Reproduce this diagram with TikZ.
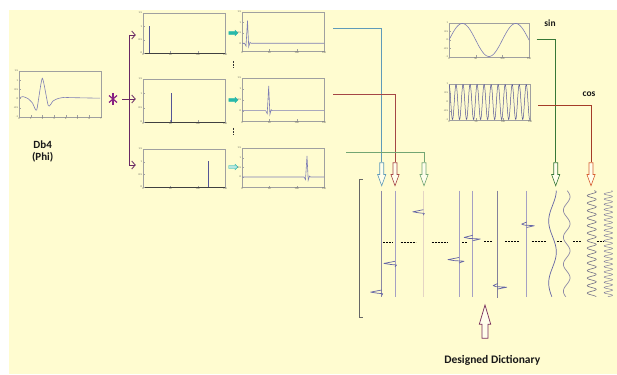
\documentclass[tikz,border=0pt]{standalone}
\usepackage{fontspec}
\setmainfont{Carlito}
\usetikzlibrary{arrows.meta,shapes.arrows,fit}
\definecolor{bgyellow}{RGB}{255,252,208}
\definecolor{frameg}{RGB}{160,160,160}
\definecolor{curvec}{RGB}{125,125,180}
\definecolor{spikec}{RGB}{85,85,150}
\definecolor{purp}{RGB}{105,40,100}
\definecolor{tealc}{RGB}{40,185,170}
\definecolor{blueC}{RGB}{95,155,185}
\definecolor{redC}{RGB}{165,70,70}
\definecolor{sageC}{RGB}{115,165,115}
\definecolor{dgreenC}{RGB}{55,120,55}
\definecolor{brownC}{RGB}{165,60,40}
\definecolor{orangeC}{RGB}{215,95,50}
\definecolor{collinec}{RGB}{165,160,195}
\definecolor{tanline}{RGB}{228,212,196}
\definecolor{blipc}{RGB}{100,100,165}
\definecolor{magC}{RGB}{120,45,90}
\tikzset{
  frame/.style={draw=frameg, line width=0.5pt, inner sep=0pt},
  darkaxis/.style={draw=black!75, line width=0.8pt},
  tickmark/.style={draw=frameg, line width=0.3pt},
  ticklab/.style={font=\fontsize{2.6}{3}\selectfont, text=black!70, inner sep=0.3pt},
  curve/.style={draw=curvec, line width=0.6pt},
  spike/.style={draw=spikec, line width=0.7pt},
  branch/.style={draw=purp, line width=0.8pt},
  branchtip/.style={branch, -{Straight Barb[length=3.5pt,width=8pt]}},
  starc/.style={draw=purp!80!magenta, line width=1.2pt},
  conn/.style={line width=0.9pt},
  downarrow/.style={single arrow, shape border rotate=270, draw, fill=bgyellow!40!white,
    minimum height=23pt, minimum width=7.6pt, inner sep=1.7pt,
    single arrow head extend=2.1pt, single arrow tip angle=40, line width=0.6pt},
  uparrow/.style={single arrow, shape border rotate=90, draw=magC, fill=bgyellow!40!white,
    minimum height=33.3pt, minimum width=10.7pt, inner sep=2.65pt,
    single arrow head extend=2.7pt, single arrow tip angle=33, line width=0.7pt},
  tealarrow/.style={single arrow, draw=tealc, fill=tealc, minimum height=9pt,
    minimum width=5.5pt, inner sep=1.3pt, single arrow head extend=1.2pt,
    single arrow tip angle=90, line width=0.4pt},
  dotmark/.style={draw=black!80, line width=0.7pt, dash pattern=on 0.7pt off 0.8pt},
  colline/.style={draw=collinec, line width=0.7pt},
  blip/.style={draw=blipc, line width=0.7pt, line join=round},
  dictdash/.style={draw=black, line width=0.8pt, dash pattern=on 2pt off 1pt},
  bracketc/.style={draw=black!60, line width=0.8pt},
  lbl/.style={text=black!90, inner sep=0pt},
}
\newcommand\pxlabs[5]{\foreach \lab [count=\i from 0] in {#5}{%
  \draw[tickmark] ({#1+\i*(#2-#1)/#4},#3) -- ++(0,-1.5);
  \node[ticklab,anchor=north] at ({#1+\i*(#2-#1)/#4},#3+0.6) {\lab};}}
\newcommand\pylabs[5]{\foreach \lab [count=\i from 0] in {#5}{%
  \draw[tickmark] (#1,{#2+\i*(#3-#2)/#4}) -- ++(1.5,0);
  \node[ticklab,anchor=east] at (#1-0.6,{#2+\i*(#3-#2)/#4}) {\lab};}}
\newcommand\wavlet[5]{\draw[curve] (#1,#4) -- (#3-3,#4) -- (#3-1.5,#4+0.12*#5) -- (#3,#4-#5)
  -- (#3+1.2,#4+0.15*#5) -- (#3+2.5,#4-0.04*#5) -- (#3+3.5,#4) -- (#2,#4);}
\newcommand\dblip[4]{\draw[blip] (#1,#2-3) -- (#1-#3,#2-0.9) -- (#1-0.45*#3,#2+0.1)
  -- (#1+#4,#2+0.7) -- (#1,#2+2.5);}
\begin{document}
\begin{tikzpicture}[x=1pt,y=-1pt]
\useasboundingbox (0,0) rectangle (617,374);
\fill[white] (0,0) rectangle (617,374);
\fill[bgyellow] (9,10) rectangle (617,374);

% ---------- Db4 plot ----------
\node[frame, fit={(19,71) (101,117)}] (db) {};
\pxlabs{19}{101}{117}{7}{0,1,2,3,4,5,6,7}
\pylabs{19}{71}{117}{5}{1.5,1,0.5,0,-0.5,-1}
\draw[curve] plot[smooth, tension=0.35] coordinates {(20,97.6) (23,96.6) (28,98.6) (32.5,103) (36.7,110) (42.3,78.3) (48.3,105.7) (53,101) (58,98.5) (64,97.4) (70,97.6) (100,98.2)};
\node[lbl, font=\bfseries\fontsize{11}{11.5}\selectfont, align=center] (dbl) at (42.7,151.5) {Db4\\(Phi)};

% ---------- convolution star and branches ----------
\coordinate (star) at (113,99);
\draw[starc] (113,93) -- (113,105);
\draw[starc] (109,95.5) -- (117,102.5);
\draw[starc] (117,95.5) -- (109,102.5);
\coordinate (j1) at (129,35);
\coordinate (j3) at (129,165);
\draw[branch] (j1) -- (j3);

% ---------- spike plots ----------
\node[frame, fit={(143,13) (225,53)}] (s1) {};
\draw[darkaxis] (s1.south west) -- (s1.south east);
\pxlabs{143}{225}{53}{3}{0,50,100,150}
\pylabs{143}{13}{53}{3}{1.5,1,0.5,0}
\draw[spike] (149,53) -- (149,26);

\node[frame, fit={(143,79) (225,122)}] (s2) {};
\draw[darkaxis] (s2.south west) -- (s2.south east);
\pxlabs{143}{225}{122}{3}{0,50,100,150}
\pylabs{143}{79}{122}{3}{1.5,1,0.5,0}
\draw[spike] (171,122) -- (171,93);

\node[frame, fit={(143,149) (225,187)}] (s3) {};
\draw[darkaxis] (s3.south west) -- (s3.south east);
\pxlabs{143}{225}{187}{3}{0,50,100,150}
\pylabs{143}{149}{187}{3}{1.5,1,0.5,0}
\draw[spike] (208,187) -- (208,161);

\draw[branchtip, shorten >=7pt] (j1) -- (j1 -| s1.west);
\draw[branchtip, shorten <=9pt, shorten >=7pt] (star) -- (star -| s2.west);
\draw[branchtip, shorten >=7pt] (j3) -- (j3 -| s3.west);

% ---------- teal arrows and dots ----------
\node[tealarrow] (t1) at (232.5,33) {};
\node[tealarrow] (t2) at (232.5,100) {};
\node[tealarrow, fill=tealc!35!white] (t3) at (232.5,167) {};
\draw[dotmark] (233,61) -- (233,67.5);
\draw[dotmark] (233,128) -- (233,135);

% ---------- shifted wavelet plots ----------
\node[frame, fit={(242,12) (324,51)}] (w1) {};
\pxlabs{242}{324}{51}{3}{0,50,100,150}
\pylabs{242}{12}{43.3}{3}{1.5,1,0.5,0}
\wavlet{242}{324}{247.5}{43.3}{22.6}

\node[frame, fit={(242,78) (324,121)}] (w2) {};
\pxlabs{242}{324}{121}{3}{0,50,100,150}
\pylabs{242}{78}{110.7}{3}{1.5,1,0.5,0}
\wavlet{242}{324}{268.7}{110.7}{24.7}

\node[frame, fit={(242,148) (324,187)}] (w3) {};
\pxlabs{242}{324}{187}{3}{0,50,100,150}
\pylabs{242}{148}{177}{3}{1.5,1,0.5,0}
\wavlet{242}{324}{307}{177}{21}

% ---------- sin / cos plots ----------
\node[frame, fit={(449,23) (529,57)}] (sn) {};
\pxlabs{449}{529}{57}{3}{0,50,100,150}
\pylabs{449}{23}{57}{4}{1,0.5,0,-0.5,-1}
\draw[curve] plot[domain=0:150, samples=120, variable=\t] ({449+\t*0.53333},{40-16.5*sin(3.6*\t)});

\node[frame, fit={(449,84) (530,120)}] (cs) {};
\pxlabs{449}{530}{120}{3}{0,50,100,150}
\pylabs{449}{84}{120}{4}{1,0.5,0,-0.5,-1}
\draw[curve, draw=spikec, line width=0.5pt] plot[domain=0:150, samples=400, variable=\t] ({449+\t*0.54},{102-17.5*cos(27.6923*\t)});

\node[lbl, font=\bfseries\fontsize{9.5}{10}\selectfont] (sinl) at (550,23.5) {sin};
\node[lbl, font=\bfseries\fontsize{9.5}{10}\selectfont] (cosl) at (589,94) {cos};

% ---------- connectors to dictionary ----------
\node[downarrow, draw=blueC] (ab) at (381.7,171.5) {};
\node[downarrow, draw=redC] (ar) at (395,171.5) {};
\node[downarrow, draw=sageC] (ag) at (424,171.5) {};
\node[downarrow, draw=dgreenC] (adg) at (555.7,171.5) {};
\node[downarrow, draw=orangeC] (ao) at (591,171.5) {};
\coordinate (b0) at (333,28);
\coordinate (r0) at (333,94);
\coordinate (g0) at (346,152);
\coordinate (dg0) at (536.7,39);
\coordinate (o0) at (538,105);
\draw[conn, blueC] (b0) -| (ab.tail);
\draw[conn, redC] (r0) -| (ar.tail);
\draw[conn, sageC] (g0) -| (ag.tail);
\draw[conn, dgreenC] (dg0) -| (adg.tail);
\draw[conn, brownC] (o0) -| (ao.tail);

% ---------- dictionary ----------
\draw[bracketc] (362.5,179) -- (359.3,179) -- (359.3,317) -- (362.5,317);
\draw[colline, draw=collinec!85!black] (381.7,190.7) -- (381.7,296.7);
\draw[colline] (395,190.7) -- (395,296.7);
\draw[colline, draw=tanline] (423.3,190.7) -- (423.3,296.7);
\draw[colline] (459,190.7) -- (459,296.7);
\draw[colline] (472.7,190.7) -- (472.7,296.7);
\draw[colline, draw=collinec!80!black] (497.7,190.7) -- (497.7,298.3);
\draw[colline] (526.7,190.7) -- (526.7,296.7);
\dblip{381.7}{293}{11}{1}
\dblip{395}{264.3}{11}{1.5}
\dblip{423.3}{212.7}{10.5}{1}
\dblip{459}{260.5}{11}{5}
\dblip{472.7}{238.3}{8.5}{7.5}
\dblip{497.7}{286.5}{4.5}{9}
\dblip{526.7}{225}{5}{7.6}
\draw[blip] plot[domain=190.7:296.7, samples=100, variable=\t] ({552.5+3.8*cos(5.80645*(\t-190))},\t);
\draw[colline, draw=collinec!85!black] plot[domain=190.7:296.7, samples=150, variable=\t] ({566.7+3.3*sin(13.3333*(\t-190))},\t);
\draw[colline, draw=collinec!70!black, line width=0.6pt] plot[domain=190.7:296.7, samples=350, variable=\t] ({591.7+4.5*sin(48*(\t-190))},\t);
\draw[colline, draw=collinec!80!black, line width=0.5pt] plot[domain=190.7:296.7, samples=450, variable=\t] ({608.3+4.2*sin(69.2308*(\t-190))},\t);

\draw[dictdash] (383.3,242) -- (392.7,242);
\draw[dictdash] (400.7,242) -- (415.7,242);
\draw[dictdash] (431.7,242) -- (447.3,242);
\draw[dictdash] (462.3,242) -- (467.3,242);
\draw[dictdash] (484.3,241.5) -- (492.7,241.5);
\draw[dictdash] (505,241) -- (520,241);
\draw[dictdash] (531.7,241) -- (546,241);
\draw[dictdash] (556.7,241) -- (561.7,241);
\draw[dictdash] (573.3,241) -- (581.7,241);
\draw[dictdash] (596.7,241) -- (603.3,241);

\node[uparrow] (up) at (485,326.7) {};
\node[lbl, font=\bfseries\fontsize{11.5}{13}\selectfont] (dd) at (492.3,360) {Designed Dictionary};
\end{tikzpicture}
\end{document}
